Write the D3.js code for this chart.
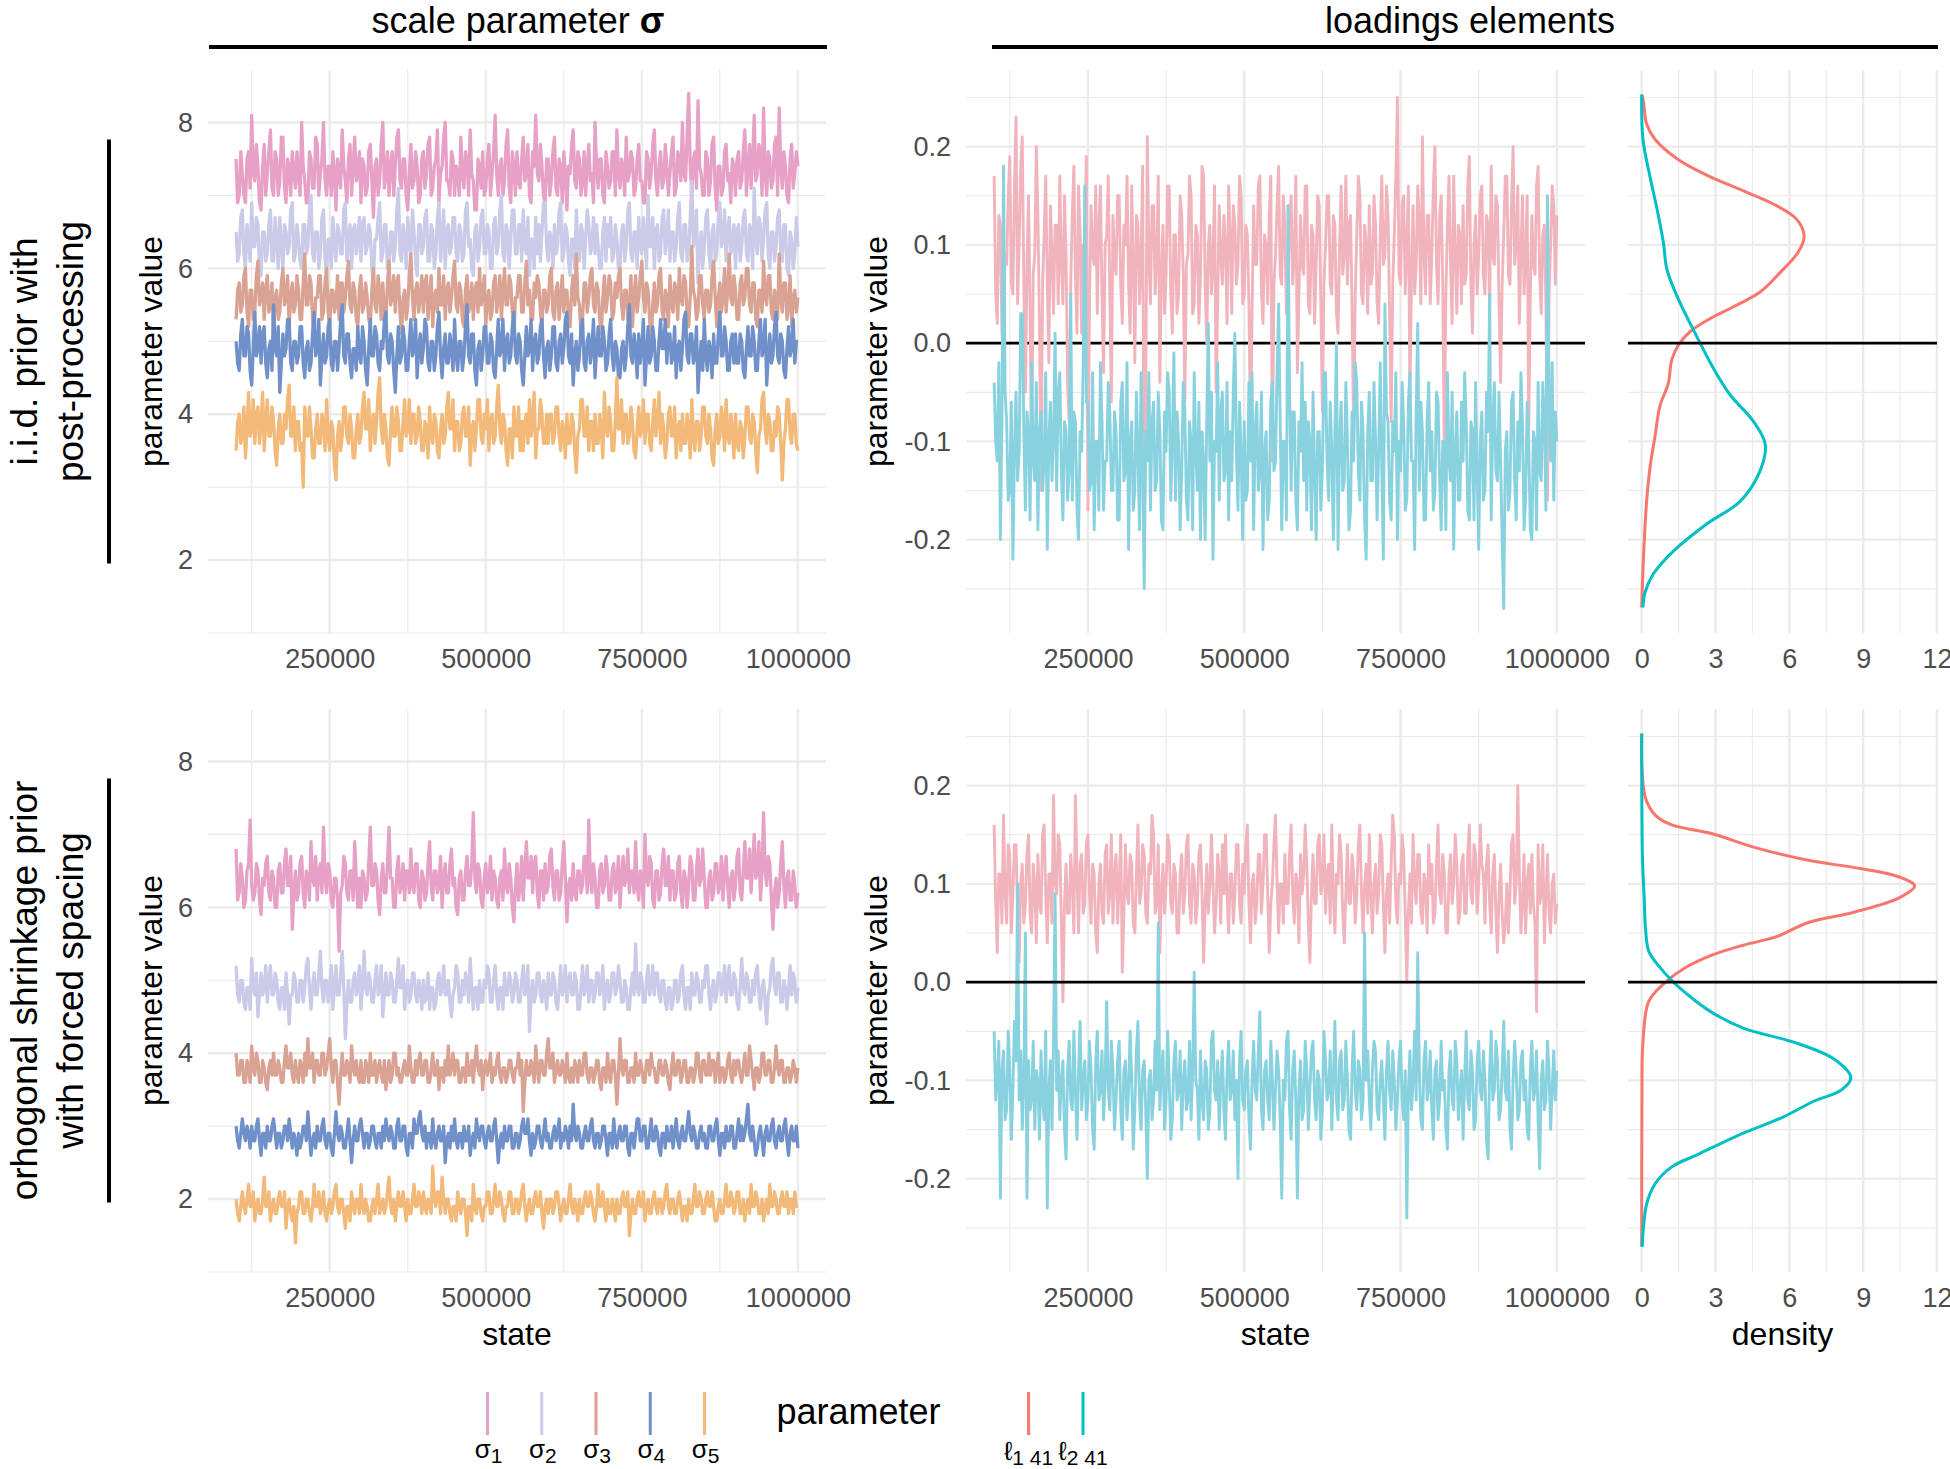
<!DOCTYPE html>
<html><head><meta charset="utf-8">
<script src="https://cdn.jsdelivr.net/npm/d3@7"></script>
<style>
body{margin:0;background:#fff;}
</style></head><body>
<script>
// ---------------- DATA ----------------
const states = d3.range(100000, 1000001, 2500);   // thinned MCMC states (361)
const sigmaNames = ["σ1","σ2","σ3","σ4","σ5"];
const sigmaColors = ["#E7A1C6","#C9CBE8","#D9A293","#7090CA","#F3B979"];
const loadNames = ["ℓ1 41","ℓ2 41"];
const loadTraceColors = ["#F2B4BC","#88D2E0"];
const loadColors = ["#F8766D","#00BFC4"];

const sigmaTicks = [2,4,6,8], sigmaMinor = [1,3,5,7];
const stateTicks = [250000,500000,750000,1000000], stateMinor = [125000,375000,625000,875000];
const loadTicks = [-0.2,-0.1,0,0.1,0.2], loadMinor = [-0.25,-0.15,-0.05,0.05,0.15,0.25];
const loadTickLabels = ["-0.2","-0.1","0.0","0.1","0.2"];
const densTicks = [0,3,6,9,12], densMinor = [1.5,4.5,7.5,10.5];

// i.i.d. prior with post-processing : sigma traces
const iidS1 = [
7.5,6.9,7.0,7.6,7.3,7.0,6.9,7.5,7.6,7.1,8.1,7.3,7.2,7.7,7.4,6.9,6.8,7.4,7.7,7.0,
7.3,7.6,7.9,7.1,7.0,7.6,7.5,7.0,7.2,7.8,7.8,7.1,6.9,7.5,7.4,7.0,7.6,7.3,7.1,7.6,
7.3,7.0,8.0,7.4,7.2,6.9,6.9,7.6,7.5,7.1,7.1,7.8,7.7,7.0,7.3,7.5,8.0,7.2,7.0,7.4,
7.4,7.0,7.6,7.3,6.8,7.5,7.3,7.1,7.9,7.4,7.2,6.9,7.5,7.7,7.0,7.4,7.8,7.2,7.3,7.6,
6.9,7.5,7.4,7.0,7.1,7.6,7.7,7.2,6.7,7.4,7.5,7.0,7.2,7.7,8.0,7.1,7.3,7.6,7.0,7.4,
7.6,7.0,7.4,7.8,7.9,7.2,7.1,7.5,7.5,7.0,6.8,7.3,7.7,7.1,7.2,7.6,7.4,6.9,7.0,7.5,
7.6,7.1,7.3,7.7,7.8,7.0,7.1,7.4,7.5,7.9,6.9,7.3,7.4,7.8,8.0,7.2,7.2,7.0,7.6,7.5,
7.0,7.4,7.3,7.0,7.8,7.3,7.1,7.6,7.5,7.0,7.9,7.3,7.2,6.8,6.8,7.5,7.4,7.1,7.6,7.0,
7.1,7.5,7.7,7.0,7.3,7.6,8.1,7.3,7.0,7.4,7.5,7.0,7.2,7.7,7.9,7.1,6.9,7.6,7.4,7.0,
7.6,7.2,7.1,7.5,7.8,7.2,7.3,7.7,7.0,6.9,7.6,7.4,8.1,7.3,7.2,7.7,7.4,7.0,6.9,7.5,
7.5,7.0,7.2,7.6,7.8,7.1,7.0,7.5,7.4,6.9,7.6,7.3,6.8,7.4,7.3,7.7,7.9,7.2,7.1,7.6,
7.5,7.0,7.2,7.6,7.0,7.4,7.7,7.2,7.3,6.9,8.0,7.4,7.1,7.5,7.5,7.0,6.9,7.6,7.4,7.1,
7.2,7.6,7.6,7.0,7.9,7.3,7.1,7.5,7.4,7.0,7.8,7.2,7.3,7.6,7.5,7.0,7.1,7.5,7.7,7.2,
7.2,6.9,6.9,7.6,7.5,7.1,7.3,7.7,7.9,7.2,7.0,7.4,7.6,7.1,7.2,7.7,7.4,7.0,7.3,7.6,
7.8,7.0,7.1,7.6,7.5,7.2,8.0,7.3,7.2,7.8,8.4,7.4,7.0,7.5,7.6,7.1,8.3,7.4,7.3,7.0,
7.0,7.6,7.5,7.0,7.2,7.7,7.8,7.1,6.8,7.4,7.4,7.0,7.1,7.6,7.7,7.2,7.3,6.9,7.5,7.4,
7.0,7.5,7.6,7.1,7.2,7.6,7.9,7.0,7.4,7.7,7.1,7.5,8.1,7.2,7.3,7.7,7.6,7.0,8.2,7.3,
7.0,7.6,7.5,7.1,7.2,7.7,7.8,7.0,8.2,7.4,7.1,7.6,7.4,7.0,6.9,7.5,7.7,7.1,7.3,7.6,
7.4];
const iidS2 = [
6.5,6.1,6.2,6.7,6.8,6.2,6.0,6.6,6.4,6.1,6.9,6.3,6.3,6.7,6.6,6.0,5.9,6.5,6.5,6.1,
6.2,6.6,6.8,6.1,6.1,6.7,6.4,6.0,6.7,6.3,6.0,6.6,6.5,6.2,6.3,6.8,6.9,6.1,6.2,6.6,
6.4,6.1,6.0,6.6,6.6,6.2,6.3,6.8,7.0,6.2,6.1,6.5,6.5,6.0,6.2,6.7,6.8,6.1,5.9,6.4,
6.4,6.0,6.7,6.3,6.1,6.6,6.5,6.2,6.2,6.8,6.9,6.1,6.3,6.6,6.0,6.5,6.6,6.2,6.4,6.7,
6.1,6.6,6.7,6.2,6.3,6.6,6.5,6.0,5.8,6.4,6.4,6.7,6.9,6.1,6.2,6.6,6.6,6.0,6.0,6.5,
6.5,6.1,6.3,6.8,7.1,6.2,6.1,6.6,6.4,6.0,6.7,6.3,6.2,6.8,6.5,6.1,5.9,6.6,6.6,6.2,
6.3,6.7,6.8,6.1,6.1,6.6,6.5,6.0,6.2,6.7,6.9,6.1,6.4,6.8,6.0,6.5,6.6,6.2,6.3,6.7,
6.7,6.2,6.1,6.6,6.5,6.1,6.2,6.8,6.9,6.3,6.4,6.0,5.9,6.5,6.6,6.1,6.3,6.7,6.8,6.2,
6.2,6.6,6.5,6.0,6.0,6.6,6.7,6.2,6.3,6.8,7.0,6.2,6.1,6.6,6.5,6.0,6.4,6.8,6.8,6.2,
6.2,6.6,6.6,6.1,6.8,6.3,6.2,6.7,5.9,6.4,6.4,6.0,6.7,6.2,6.6,6.1,6.5,6.9,6.9,6.3,
6.1,6.5,6.4,6.0,6.6,6.2,6.3,6.8,6.9,6.1,6.2,6.6,6.5,6.1,5.9,6.4,6.4,6.0,6.8,6.3,
6.1,6.6,6.5,6.0,6.4,6.8,6.6,6.2,6.3,6.7,6.2,6.6,6.3,6.0,6.0,6.5,6.7,6.1,6.6,6.3,
6.7,6.1,6.2,6.6,6.4,6.0,6.0,6.5,6.6,6.1,6.3,6.8,6.9,6.2,6.1,6.5,6.5,6.0,6.7,6.3,
6.2,6.7,6.4,6.0,7.0,6.3,6.3,6.7,6.0,6.5,6.6,6.1,6.2,6.7,6.8,6.2,6.4,6.8,6.1,6.5,
6.5,6.1,6.3,6.7,6.9,6.2,6.1,6.6,6.6,6.1,6.2,6.7,7.2,6.3,6.4,6.8,5.8,6.3,6.5,6.0,
6.3,6.7,6.8,6.2,6.0,6.5,6.6,6.1,6.2,6.7,6.9,6.3,6.4,6.8,6.1,6.5,6.7,6.2,6.3,6.6,
6.0,6.5,6.6,6.1,6.3,6.7,6.8,6.2,6.1,6.6,6.5,6.0,7.1,6.4,6.2,6.7,6.6,6.1,6.4,6.8,
6.9,6.2,6.0,6.5,6.5,6.1,6.3,6.7,6.8,6.2,6.1,6.6,6.6,6.0,5.9,6.5,6.4,6.0,6.2,6.7,
6.3];
const iidS3 = [
5.3,5.7,5.8,5.4,5.5,5.9,6.0,5.4,5.2,5.7,5.7,5.3,5.4,5.9,6.1,5.5,5.6,5.8,5.3,5.7,
5.9,5.4,5.5,5.8,5.1,5.6,5.7,5.3,5.4,5.8,6.0,5.5,5.6,5.9,5.2,5.6,5.8,5.4,5.5,5.9,
5.7,5.3,5.3,5.8,6.2,5.5,5.5,5.9,5.8,5.3,5.1,5.6,5.6,5.9,5.9,5.3,5.4,5.8,6.0,5.4,
5.2,5.7,5.7,5.4,5.5,5.9,5.3,5.8,5.8,5.4,5.6,5.9,6.1,5.5,5.4,5.8,5.7,5.3,5.2,5.7,
5.9,5.4,5.5,5.8,5.6,5.3,5.2,5.7,6.0,5.5,5.4,5.9,5.7,5.3,5.8,5.4,5.3,5.8,6.1,5.5,
5.6,5.9,5.4,5.8,5.9,5.4,5.1,5.6,5.7,5.3,5.5,5.9,6.2,5.6,5.3,5.7,5.8,5.4,5.6,5.9,
5.4,5.8,5.9,5.3,5.6,5.9,5.2,5.6,5.7,5.4,6.0,5.5,5.5,5.9,5.3,5.7,5.8,5.4,5.6,5.9,
6.1,5.5,5.4,5.8,5.7,5.3,5.2,5.7,5.9,5.4,5.5,5.8,5.3,5.7,5.8,5.4,6.0,5.5,5.6,5.9,
5.2,5.6,5.7,5.3,5.4,5.8,5.9,5.4,5.6,5.9,5.3,5.7,6.0,5.5,5.5,5.9,5.8,5.4,5.1,5.6,
5.6,5.9,5.9,5.4,5.4,5.8,6.1,5.5,5.7,5.3,5.3,5.8,5.6,5.9,5.8,5.4,5.2,5.7,5.7,5.4,
5.5,5.9,6.0,5.4,5.3,5.7,5.8,5.3,5.6,5.9,5.4,5.7,5.7,5.3,5.2,5.7,5.9,5.5,6.2,5.6,
5.5,5.1,5.3,5.8,5.8,5.4,5.6,5.9,6.0,5.5,5.4,5.8,5.7,5.3,5.1,5.6,5.9,5.4,5.6,5.9,
5.8,5.3,5.4,5.8,5.6,5.9,6.0,5.5,5.3,5.7,5.7,5.3,5.5,5.9,5.2,5.6,5.9,5.4,5.6,5.9,
6.1,5.6,5.4,5.8,5.7,5.3,5.0,5.5,5.8,5.4,5.5,5.9,6.0,5.4,5.3,5.7,5.6,5.2,5.9,5.5,
5.4,5.8,5.7,5.3,6.0,5.6,5.5,5.9,5.8,5.4,5.2,5.6,6.3,5.7,5.6,5.3,5.4,5.9,5.9,5.5,
5.3,5.7,5.7,5.4,5.5,5.9,6.1,5.6,5.2,5.6,5.8,5.4,5.6,6.0,5.4,5.7,6.2,5.6,5.5,5.9,
5.7,5.3,5.3,5.8,5.9,5.5,5.6,6.0,6.0,5.5,5.4,5.8,5.8,5.3,5.2,5.7,5.7,5.4,6.1,5.6,
5.5,5.9,5.9,5.4,5.3,5.7,5.6,5.3,6.2,5.6,5.4,5.8,5.8,5.3,5.5,5.9,5.2,5.6,5.7,5.4,
5.6];
const iidS4 = [
5.0,4.7,4.6,5.1,5.3,4.8,4.8,5.2,5.1,4.6,4.4,4.9,5.4,4.8,4.9,5.2,4.7,5.1,5.2,4.7,
4.5,4.9,5.0,4.6,5.5,4.9,4.8,5.2,4.3,4.7,5.1,4.8,4.9,5.3,5.3,4.7,4.6,5.0,5.0,4.7,
4.8,5.2,5.2,4.7,4.5,4.9,5.0,4.6,4.7,5.1,5.4,4.8,4.9,5.3,4.4,4.8,5.1,4.7,4.8,5.2,
5.3,4.7,4.6,5.0,5.0,4.6,4.9,5.3,5.5,4.8,4.7,5.1,5.1,4.7,4.5,4.9,4.9,4.6,5.2,4.8,
4.7,5.2,5.0,4.6,4.4,4.9,5.3,4.8,4.8,5.2,5.1,4.7,4.6,5.0,4.9,5.3,5.4,4.8,4.7,5.1,
5.0,4.6,4.3,4.8,5.2,4.7,4.8,5.2,5.0,4.6,4.6,5.0,5.3,4.8,4.9,5.3,4.5,4.9,5.1,4.7,
4.9,5.3,5.2,4.7,4.6,5.0,5.0,4.6,4.8,5.2,5.4,4.8,4.5,4.9,5.1,4.7,4.7,5.1,4.9,4.6,
5.3,4.8,4.6,5.0,5.0,4.6,4.8,5.2,5.5,4.8,4.7,5.1,5.1,4.6,4.4,4.9,5.0,4.6,4.8,5.2,
5.2,4.7,4.7,5.1,5.0,4.6,4.5,4.9,5.3,4.8,4.9,5.3,4.6,5.0,5.1,4.7,4.8,5.2,5.4,4.8,
4.7,5.1,5.0,4.6,4.4,4.8,5.2,4.8,4.9,5.3,4.6,5.0,5.1,4.7,4.8,5.2,5.3,4.8,4.5,4.9,
5.0,4.6,4.8,5.2,5.2,4.7,4.6,5.0,5.1,4.7,4.9,5.3,5.4,4.8,4.7,5.1,4.4,4.8,5.0,4.6,
4.8,5.2,5.3,4.7,4.6,5.0,5.1,4.7,4.9,5.3,4.5,4.9,5.2,4.8,4.8,5.2,5.0,4.6,4.7,5.1,
5.3,4.8,4.6,5.0,4.9,4.5,4.5,4.9,5.0,4.6,4.8,5.2,5.5,4.8,4.7,5.1,4.9,4.5,5.1,4.7,
4.9,5.3,4.4,4.8,5.2,4.7,4.8,5.2,5.0,4.6,4.6,5.0,5.3,4.9,4.9,5.3,4.7,5.1,5.1,4.7,
4.8,5.2,4.5,4.9,5.0,4.6,4.9,5.3,5.4,4.8,4.7,5.1,5.1,4.7,4.8,5.2,4.3,4.7,5.0,4.6,
5.3,4.8,4.6,5.0,4.9,4.5,5.1,4.7,4.7,5.1,5.4,4.8,4.8,5.2,5.0,4.6,4.6,5.0,5.1,4.7,
5.1,4.7,4.7,5.1,5.0,4.6,4.5,4.9,5.2,4.8,4.8,5.2,5.0,4.6,4.6,5.0,5.3,4.8,4.9,5.3,
4.4,4.8,5.1,4.7,4.8,5.2,5.4,4.8,4.7,5.1,5.0,4.6,4.5,4.9,5.2,4.8,4.9,5.3,4.7,5.0,
5.0];
const iidS5 = [
3.5,3.9,4.0,3.6,3.7,4.1,3.4,3.8,4.3,3.7,3.8,4.2,3.6,4.0,4.1,3.6,3.9,4.3,3.5,3.9,
4.2,3.7,3.7,4.1,3.9,3.5,3.3,3.8,4.0,3.6,3.6,4.0,3.8,4.2,4.4,3.7,3.7,4.1,3.5,3.9,
3.9,3.5,3.6,3.0,4.1,3.7,3.7,4.1,3.8,3.4,3.4,3.8,4.0,3.6,3.6,4.0,3.9,3.5,4.2,3.7,
3.5,3.9,3.8,3.3,3.1,3.7,3.9,3.5,3.7,4.1,4.1,3.7,3.6,4.0,3.8,3.4,3.4,3.8,4.0,3.6,
3.7,4.1,4.3,3.8,3.8,4.2,3.5,3.9,4.0,3.6,3.9,4.3,4.5,3.8,3.6,4.0,3.8,3.4,3.3,3.8,
4.1,3.7,3.7,4.1,3.9,3.5,3.5,3.9,4.2,3.7,3.8,4.2,3.6,4.0,4.0,3.6,3.7,4.1,3.9,3.5,
3.5,3.9,3.8,3.4,4.1,3.7,3.6,4.0,3.9,3.5,3.4,3.8,4.0,3.6,3.7,4.1,4.3,3.8,3.8,4.2,
3.5,3.9,3.9,3.5,3.6,4.0,4.1,3.7,3.7,4.1,3.3,3.8,3.9,3.5,3.8,4.2,4.2,3.7,3.6,4.0,
3.8,4.2,3.5,3.9,4.0,3.6,3.7,4.1,4.4,3.8,3.6,4.0,3.9,3.5,3.3,3.8,3.8,3.4,4.1,3.7,
3.7,4.1,3.5,3.9,3.5,3.9,4.0,3.6,4.2,3.7,3.9,4.3,3.4,3.8,3.8,4.2,4.0,3.6,3.6,4.0,
3.6,4.0,4.0,3.6,3.7,4.1,4.1,3.7,3.5,3.9,3.8,3.4,4.0,3.6,3.6,4.0,3.9,3.5,3.2,3.7,
3.8,4.2,4.2,3.7,3.7,4.1,3.5,3.9,3.9,3.5,4.0,3.6,3.6,4.0,3.8,3.4,4.3,3.8,3.7,4.1,
3.9,3.5,3.5,3.9,4.5,3.8,3.8,4.2,3.6,4.0,4.0,3.6,3.7,4.1,3.9,3.5,3.4,3.8,4.1,3.7,
3.8,4.2,3.6,4.0,4.0,3.6,3.5,3.9,4.2,3.7,3.9,4.3,3.6,4.0,3.8,3.4,3.6,4.0,4.1,3.7,
3.7,4.1,3.4,3.8,3.9,3.5,4.0,3.6,3.6,4.0,3.8,3.4,4.2,3.7,3.5,3.9,3.9,3.5,3.7,4.1,
4.1,3.7,3.6,4.0,3.8,3.4,3.3,3.8,4.0,3.6,3.7,4.1,3.9,3.5,4.2,3.7,3.6,4.0,3.8,3.4,
4.0,3.6,3.5,3.9,3.8,3.4,3.7,4.1,4.1,3.7,3.6,4.0,3.9,3.5,3.2,3.7,3.8,4.2,4.3,3.8,
3.6,4.0,3.9,3.5,3.5,3.9,3.7,4.1,4.0,3.6,3.1,3.6,3.8,4.2,4.2,3.7,3.6,4.0,4.0,3.6,
3.5];

// orthogonal shrinkage prior with forced spacing : sigma traces
const osS1 = [
6.8,6.1,6.2,6.6,6.4,6.0,6.1,6.5,6.6,7.2,6.3,6.1,6.2,6.6,6.5,6.1,5.9,6.4,6.3,6.6,
6.7,6.2,6.1,6.5,6.4,6.0,6.0,6.5,6.6,6.2,6.2,6.6,6.8,6.3,6.3,6.7,5.7,6.2,6.5,6.1,
6.2,6.6,6.7,6.2,6.0,6.5,6.4,6.1,6.9,6.4,6.3,6.7,6.1,6.5,6.6,6.2,7.1,6.4,6.2,6.6,
6.5,6.1,6.0,6.4,6.4,6.1,5.4,6.2,6.3,6.7,6.6,6.2,6.1,6.5,6.5,6.1,6.9,6.4,6.0,6.4,
6.0,6.5,6.4,6.1,6.2,6.6,7.1,6.3,6.3,6.6,6.5,6.1,5.9,6.4,6.6,6.2,6.2,6.6,7.1,6.4,
6.4,6.0,6.0,6.5,6.7,6.2,6.3,6.6,6.1,6.5,6.5,6.2,6.8,6.3,6.2,6.6,6.6,6.1,6.0,6.5,
6.4,6.1,6.2,6.6,6.9,6.3,6.1,6.5,6.5,6.2,6.3,6.7,6.0,6.4,6.6,6.2,6.2,6.6,6.8,6.3,
6.4,6.0,5.9,6.4,6.5,6.1,6.1,6.5,6.7,6.3,6.3,6.6,7.3,6.4,6.2,6.6,6.5,6.1,6.0,6.4,
6.6,6.2,6.3,6.7,6.1,6.5,6.4,6.1,6.0,6.4,6.5,6.1,6.8,6.3,6.2,6.6,6.4,6.0,5.8,6.3,
6.6,6.1,6.3,6.7,6.1,6.5,6.9,6.4,6.4,6.7,6.2,6.6,6.7,6.2,6.0,6.5,6.5,6.1,6.6,6.2,
6.3,6.7,6.8,6.3,6.1,6.5,6.5,6.1,6.2,6.6,6.9,6.4,5.8,6.3,6.4,6.1,6.6,6.2,6.1,6.5,
6.5,6.2,6.3,6.7,6.7,6.2,7.2,6.4,6.2,6.6,6.4,6.0,6.0,6.5,6.6,6.2,6.3,6.7,6.5,6.1,
6.1,6.5,6.6,6.2,6.3,6.7,6.0,6.4,6.7,6.3,6.4,6.8,6.2,6.5,6.5,6.2,6.9,6.3,6.1,6.5,
6.4,6.0,7.0,6.4,6.3,6.7,6.6,6.1,6.0,6.5,6.5,6.1,6.2,6.6,6.8,6.3,6.3,6.7,6.1,6.5,
6.5,6.1,6.2,6.6,6.7,6.2,6.0,6.5,6.4,6.0,6.3,6.7,6.6,6.1,6.1,6.5,6.8,6.3,6.4,6.8,
6.4,6.0,6.0,6.4,6.5,6.1,6.2,6.6,6.6,6.2,6.3,6.7,6.1,6.5,6.7,6.3,6.0,6.4,6.5,6.1,
6.3,6.7,6.8,6.2,6.1,6.5,6.9,6.4,6.4,6.8,6.2,6.6,7.0,6.4,6.5,6.9,6.1,6.5,7.3,6.5,
6.3,6.7,6.6,6.1,5.7,6.2,6.4,6.0,6.2,6.6,6.9,6.3,6.0,6.4,6.5,6.1,6.1,6.5,6.3,6.0,
6.2];
const osS2 = [
5.2,4.8,4.7,5.0,5.0,4.7,4.6,4.9,4.9,4.6,5.3,4.9,4.8,5.1,4.5,4.8,5.1,4.8,4.9,5.2,
4.7,5.0,5.2,4.8,4.8,5.1,5.0,4.7,4.6,4.9,4.9,4.6,5.1,4.8,4.4,4.8,4.8,5.1,5.0,4.7,
4.7,5.0,5.0,4.7,4.9,5.2,5.3,4.9,4.6,4.9,5.1,4.8,4.8,5.1,5.4,4.9,4.7,5.0,5.0,4.7,
4.9,5.2,4.6,4.9,5.2,4.8,4.8,5.1,5.4,4.9,4.2,4.7,5.0,4.7,4.7,5.0,5.1,4.8,4.9,5.2,
4.6,4.9,5.4,4.9,4.8,5.1,5.0,4.7,4.7,5.0,5.2,4.8,4.9,5.2,4.5,4.8,5.1,4.8,4.8,5.1,
5.0,4.7,4.7,5.0,5.3,4.9,4.9,5.2,4.6,4.9,5.0,4.7,4.8,5.1,5.1,4.8,4.7,5.0,4.9,4.6,
5.0,4.7,4.8,5.1,4.6,4.9,4.9,4.6,4.7,5.0,5.1,4.8,4.9,5.2,4.8,4.8,5.0,4.7,4.5,4.8,
4.9,5.2,5.1,4.7,4.7,5.0,4.8,5.1,5.0,4.7,5.3,4.9,4.6,4.9,4.9,4.6,5.0,4.7,4.7,5.0,
4.9,5.2,5.1,4.7,4.7,5.0,5.2,4.8,4.6,4.9,4.9,4.6,5.1,4.8,4.8,5.1,5.0,4.7,4.8,5.1,
5.0,4.7,4.7,5.0,5.2,4.8,4.9,5.2,4.3,4.8,5.0,4.7,4.8,5.1,5.1,4.8,4.7,5.0,4.9,4.6,
5.1,4.8,4.8,5.1,5.0,4.7,4.6,4.9,5.2,4.8,4.9,5.2,4.7,5.0,5.1,4.8,4.8,5.1,5.0,4.6,
4.6,4.9,5.2,4.8,4.9,5.2,4.7,5.0,5.0,4.7,4.8,5.1,5.1,4.8,4.9,5.2,4.6,4.9,5.0,4.7,
4.8,5.1,5.1,4.8,4.9,5.2,5.0,4.7,4.7,5.0,4.9,4.6,4.6,4.9,5.1,4.8,5.5,4.9,4.8,5.1,
5.0,4.7,4.7,5.0,5.2,4.8,4.9,5.2,4.8,5.1,5.1,4.8,4.7,5.0,5.0,4.7,4.6,4.9,4.9,4.6,
4.7,5.0,5.0,4.7,4.8,5.1,5.2,4.8,4.6,4.9,4.9,4.6,5.1,4.8,4.8,5.1,5.0,4.7,4.7,5.0,
4.9,5.2,5.2,4.8,4.6,4.9,5.0,4.7,4.8,5.1,5.1,4.8,4.9,5.2,4.7,5.0,5.2,4.8,4.8,5.1,
5.0,4.7,4.6,4.9,5.3,4.9,4.8,5.1,5.0,4.7,4.7,5.0,4.8,5.1,5.2,4.8,4.6,4.9,5.0,4.7,
4.4,4.8,4.9,5.2,5.3,4.9,4.8,5.1,5.1,4.7,4.7,5.0,4.9,4.6,4.9,5.2,4.8,5.1,5.0,4.7,
4.9];
const osS3 = [
4.0,3.7,3.7,3.9,3.9,3.6,3.6,3.9,3.8,3.6,4.1,3.8,3.7,4.0,3.9,3.6,3.6,3.9,3.8,3.6,
3.5,3.8,3.9,3.7,4.0,3.7,3.7,3.9,3.8,3.6,3.6,3.9,4.1,3.8,3.8,4.0,3.7,3.6,3.9,3.7,
3.6,3.9,3.8,3.6,4.0,3.7,4.2,3.8,3.8,4.0,3.6,3.9,3.9,3.7,3.7,4.0,4.0,3.7,3.8,4.0,
4.2,3.8,3.6,3.9,3.9,3.6,3.3,3.7,4.0,3.7,3.7,3.9,3.8,3.6,4.1,3.8,3.7,3.9,3.7,3.6,
3.9,3.6,3.6,3.9,3.8,3.6,4.0,3.7,3.7,3.9,3.6,3.8,3.9,3.7,3.6,3.9,3.5,3.7,3.9,3.6,
3.7,4.0,4.0,3.7,3.8,3.6,3.6,3.8,3.9,3.7,3.7,4.1,3.8,3.6,3.6,3.9,3.7,3.9,4.0,3.7,
3.7,3.9,3.9,3.6,3.6,3.8,4.0,3.7,3.7,3.9,3.5,3.8,3.8,3.6,3.9,3.7,4.1,3.7,3.8,4.0,
3.7,3.9,3.9,3.6,3.6,3.8,3.8,3.6,4.0,3.7,3.7,3.9,3.6,3.9,4.1,3.8,3.7,3.9,3.5,3.8,
3.9,3.7,3.8,4.0,3.6,3.8,3.7,3.9,4.0,3.7,3.6,3.8,3.8,3.6,3.7,3.9,3.9,3.7,3.6,3.8,
3.8,4.0,3.7,3.9,3.2,3.6,3.9,3.7,3.7,3.9,3.8,3.6,4.1,3.8,3.6,3.9,3.9,3.7,3.7,4.0,
4.2,3.8,3.8,4.0,3.6,3.8,3.9,3.7,3.7,3.9,3.8,3.6,4.0,3.7,3.6,3.8,3.6,3.9,3.8,3.6,
3.9,3.7,3.7,4.0,4.0,3.7,3.6,3.8,3.8,3.6,3.7,3.9,3.9,3.6,3.5,3.8,3.8,3.6,4.0,3.7,
3.6,3.9,3.9,3.7,3.3,3.7,4.2,3.8,3.7,3.9,3.9,3.6,3.6,3.8,3.8,3.6,4.0,3.7,3.7,3.9,
3.8,3.6,3.6,3.9,3.9,3.7,4.0,3.8,3.8,3.6,3.6,3.9,3.9,3.7,3.7,3.9,3.8,3.6,3.5,3.8,
4.0,3.7,3.7,3.9,3.9,3.6,3.7,3.9,3.9,3.6,3.6,3.8,3.8,3.6,3.7,4.0,4.0,3.7,3.6,3.9,
3.9,3.7,3.7,4.0,3.7,3.9,3.9,3.6,3.8,4.0,3.6,3.8,3.8,3.6,3.7,3.9,4.0,3.7,3.6,3.9,
3.7,3.9,3.9,3.7,3.6,3.8,4.0,3.7,3.7,4.1,3.9,3.7,3.5,3.8,3.8,3.6,3.7,4.0,4.0,3.7,
3.7,3.9,3.9,3.6,3.6,3.8,4.1,3.8,3.7,3.9,3.9,3.6,3.6,3.8,3.8,3.6,3.7,3.9,3.8,3.6,
3.8];
const osS4 = [
3.0,2.8,2.7,2.9,3.1,2.9,2.8,3.0,2.9,2.7,3.0,2.8,2.8,3.0,3.1,2.8,2.6,2.9,2.9,2.7,
3.0,2.8,2.8,3.0,3.1,2.9,2.7,2.9,2.9,2.7,2.8,3.0,3.0,2.8,3.1,2.9,2.7,2.9,2.8,2.6,
2.9,2.7,2.8,3.0,3.0,2.8,3.2,2.9,2.6,2.8,2.9,2.7,3.0,2.8,2.8,3.0,3.1,2.8,2.7,2.9,
2.9,2.7,2.6,2.9,3.2,2.9,2.8,3.0,2.9,2.7,2.7,2.9,3.1,2.8,2.5,2.8,3.0,2.8,2.8,3.0,
3.1,2.9,2.7,2.9,2.9,2.7,2.8,3.0,3.0,2.8,2.7,2.9,2.9,2.7,3.0,2.8,3.1,2.9,2.8,3.0,
2.9,2.7,2.7,3.0,3.1,2.8,2.8,3.0,3.0,2.7,2.6,2.9,2.9,2.7,3.1,2.9,2.9,3.1,3.2,2.9,
2.8,3.0,2.7,2.9,2.9,2.7,3.1,2.8,2.7,2.9,3.0,2.8,2.8,3.0,2.5,2.8,2.9,2.7,3.0,2.8,
3.1,2.8,2.7,2.9,2.9,2.7,3.0,2.8,2.8,3.0,2.6,2.8,2.9,2.7,3.1,2.9,2.8,3.0,3.0,2.8,
2.7,2.9,3.0,2.8,2.8,3.0,3.1,2.8,2.5,2.8,2.9,2.7,3.0,2.8,2.8,3.0,3.0,2.7,2.7,2.9,
2.9,2.7,2.8,3.0,3.1,2.9,2.9,3.1,2.8,2.6,2.9,2.7,2.8,3.0,3.0,2.8,2.7,2.9,3.1,2.8,
2.9,2.7,2.7,2.9,3.0,2.8,2.9,3.1,2.7,2.9,2.8,3.0,2.9,2.7,3.0,2.8,3.3,2.9,2.8,3.0,
2.9,2.7,2.7,2.9,3.0,2.8,2.8,3.0,3.1,2.8,2.7,2.9,2.9,2.7,2.8,3.0,3.0,2.8,2.6,2.9,
2.9,2.7,3.1,2.8,2.7,2.9,3.0,2.8,2.8,3.0,3.0,2.7,2.6,2.9,2.9,2.7,2.9,3.1,3.1,2.8,
2.8,3.0,3.0,2.7,2.7,2.9,3.1,2.8,2.8,3.0,2.9,2.7,2.6,2.9,2.9,2.7,3.0,2.8,2.8,3.0,
2.7,2.9,3.1,2.8,2.7,2.9,3.0,2.8,2.8,3.0,3.2,2.9,2.8,3.0,2.9,2.7,2.7,2.9,3.0,2.8,
2.9,2.7,2.7,3.0,3.0,2.8,2.8,3.0,3.1,2.8,2.6,2.9,2.9,2.7,3.0,2.8,2.8,3.0,3.0,2.7,
2.7,2.9,3.1,2.8,3.0,2.8,2.9,3.1,3.3,2.9,2.8,3.0,2.8,2.6,2.7,2.9,3.0,2.8,2.6,2.9,
3.0,2.8,2.8,3.0,3.1,2.8,2.7,2.9,3.0,2.8,2.8,3.0,3.1,2.8,2.6,2.9,3.0,2.8,2.8,3.0,
2.7];
const osS5 = [
2.0,1.8,1.7,1.9,2.1,1.9,1.8,2.0,2.2,1.9,1.9,2.1,1.7,1.9,2.0,1.8,1.8,2.0,2.3,1.9,
1.9,2.1,1.7,1.9,2.0,1.8,1.8,2.0,2.1,1.9,1.9,2.1,1.6,1.9,2.0,1.8,1.7,1.9,1.4,1.8,
1.9,2.1,2.1,1.8,1.8,2.0,2.0,1.8,1.7,1.9,2.2,1.9,1.9,2.1,1.8,1.9,2.1,1.8,1.7,1.9,
2.0,1.8,1.9,2.1,2.2,1.9,1.8,2.0,2.0,1.8,1.6,1.9,1.9,1.7,2.1,1.9,1.8,2.0,2.0,1.8,
2.2,1.9,1.8,2.0,1.9,1.7,1.7,1.9,2.0,1.8,2.0,2.2,1.8,1.9,2.0,1.8,1.9,2.1,2.3,1.9,
1.8,2.0,1.7,1.9,2.1,1.9,1.9,2.1,1.9,1.7,2.0,1.8,1.8,2.0,2.2,1.9,1.9,2.1,2.0,1.8,
2.1,1.9,1.8,2.0,2.0,1.8,2.45,2.0,1.9,2.1,2.1,1.8,2.3,2.0,1.8,2.0,2.0,1.8,1.7,1.9,
1.9,1.7,2.1,1.9,1.8,2.0,2.0,1.8,1.5,1.9,1.9,1.7,2.2,1.9,1.8,2.0,2.0,1.8,1.7,1.9,
1.9,2.1,2.1,1.8,1.8,2.0,2.2,1.9,1.9,2.1,2.0,1.8,1.7,1.9,1.9,2.1,2.1,1.8,1.8,2.0,
2.0,1.8,1.9,2.1,2.2,1.9,1.7,1.9,2.0,1.8,1.8,2.0,2.1,1.9,1.9,2.1,1.8,1.6,1.9,2.0,
1.8,2.0,2.0,1.8,1.9,2.1,2.1,1.9,1.7,1.9,2.0,1.8,1.8,2.0,2.2,1.9,1.8,2.0,1.9,1.7,
2.0,1.8,1.8,2.0,2.1,1.9,1.9,2.1,2.0,1.8,1.7,1.9,2.2,1.9,1.9,2.1,1.9,1.7,2.0,1.8,
1.8,2.0,1.9,1.7,2.0,1.8,1.8,2.0,2.1,1.9,1.9,2.1,1.5,1.8,2.0,1.8,1.8,2.0,2.1,1.9,
1.9,2.1,1.7,1.9,2.0,1.8,1.8,2.0,2.1,1.9,1.8,2.0,2.0,1.8,1.9,2.1,2.2,1.9,1.8,2.0,
2.0,1.8,1.8,2.0,2.1,1.9,1.7,1.9,1.9,1.7,2.0,1.8,1.8,2.0,2.2,1.9,1.9,2.1,2.0,1.8,
1.8,2.0,2.1,1.9,1.9,2.1,1.9,1.7,1.7,1.9,2.0,1.8,1.8,2.0,2.2,1.9,1.9,2.1,2.0,1.8,
1.9,2.1,2.1,1.8,1.8,2.0,1.7,1.9,2.0,1.8,2.2,1.9,1.9,2.1,2.0,1.8,1.8,2.0,1.7,1.9,
2.0,1.8,2.2,1.9,1.9,2.1,2.0,1.8,1.8,2.0,2.1,1.9,1.9,2.1,1.8,2.0,2.0,1.8,2.1,1.9,
1.9];

// loadings traces
const iidL1 = [
.17,.05,.02,.13,.12,.01,-.01,.09,.08,.15,.19,.06,.05,.16,.23,.04,.10,.18,.21,.06,
-.05,.08,.15,.03,-.12,.07,.09,.20,.13,.02,-.15,.06,.11,.17,.06,-.02,.14,.09,.03,.12,
.12,.04,.17,.08,.04,.15,.09,-.04,-.08,.06,.13,.18,.07,.01,.16,.11,.01,.10,.10,.19,
-.17,.04,.14,.09,.08,.16,.03,.12,.16,.05,-.03,.10,.11,.17,.05,-.06,.13,.08,.07,.15,
.15,.06,.02,.12,.10,.17,.06,.01,.16,.08,-.02,.13,.12,.04,.08,.18,-.20,-.05,.21,.09,
.04,.14,.14,.05,.09,.17,-.04,.07,.12,.03,.07,.16,.16,.05,.01,.11,.11,.03,.05,.15,
.13,.07,-.06,.08,.09,.17,.15,.03,.04,.12,.11,.02,.07,.18,.17,.06,.00,.10,.12,.05,
.08,.16,-.05,.04,.14,.09,.06,.13,.10,.02,.16,.11,.03,.14,.12,.06,.08,.17,.15,.04,
.05,.12,.11,.04,-.10,.03,.14,.08,.08,.16,.17,.05,.02,.11,.10,.04,.13,.17,-.12,.06,
.09,.14,.18,.07,.06,.15,.12,.03,.04,.13,.15,.06,.09,.17,-.03,.05,.13,.08,.07,.16,
.16,.04,.03,.12,.11,.02,.08,.15,.14,.04,-.07,.06,.10,.15,.15,.06,.05,.13,.12,.03,
.01,.10,.16,.07,.09,.17,.06,.12,.13,.03,-.09,.05,.11,.17,.15,.05,.04,.12,.10,.03,
.14,.06,.07,.15,.12,.04,.02,.11,.17,.08,.09,.16,.13,.03,-.08,.06,.11,.17,.25,.07,
.06,.14,.15,.05,.10,.16,-.06,.07,.14,.05,.08,.16,.12,.04,.21,.09,.05,.13,.13,.04,
.09,.16,.20,.08,.04,.13,.15,.06,-.11,.05,.12,.17,.08,.02,.17,.09,.03,.12,.11,.04,
.14,.06,.07,.16,.19,.06,.01,.10,.13,.05,.09,.15,.16,.07,.05,.13,.12,.03,.18,.09,
.08,.15,.14,.04,-.04,.06,.11,.17,.17,.07,.06,.14,.20,.08,.10,.16,.02,.09,.15,.05,
.09,.15,-.09,.05,.13,.08,.07,.16,.18,.07,.03,.11,.12,.04,-.16,.05,.10,.16,.14,.06,
.13];
const iidL2 = [
-.04,-.10,-.12,-.02,-.20,-.08,.18,-.05,-.08,-.16,-.15,-.06,-.22,-.11,-.05,-.14,-.11,.03,.03,-.09,
-.17,-.07,-.09,-.18,-.02,-.12,-.14,-.04,-.19,-.09,-.07,-.15,-.12,-.03,-.21,-.10,-.06,-.14,-.10,.01,
-.15,-.05,-.03,-.13,-.18,-.08,-.09,-.16,-.13,.05,-.16,-.07,-.08,-.17,-.20,-.09,-.11,-.02,.16,-.06,
-.06,-.15,-.14,-.03,-.19,-.10,-.10,-.17,-.02,-.08,-.17,-.12,-.12,-.04,-.07,-.15,-.15,-.07,-.09,-.18,
-.18,-.06,-.04,-.14,-.13,-.02,-.21,-.10,-.08,-.17,-.15,-.05,-.11,-.19,-.03,-.12,-.25,-.09,-.12,-.03,
-.17,-.08,-.06,-.15,-.14,-.05,-.09,-.18,-.19,-.07,-.11,-.03,-.05,-.16,-.10,-.01,-.16,-.07,-.10,-.19,
-.13,-.04,-.07,-.16,-.18,-.08,-.10,-.19,-.03,-.11,-.15,-.06,-.20,-.09,-.12,-.20,-.08,.02,-.12,-.05,
-.22,-.10,-.11,-.02,-.16,-.07,-.05,-.14,-.13,-.04,-.18,-.09,-.14,-.05,.01,-.11,-.17,-.06,-.11,-.20,
-.08,-.16,-.15,-.04,-.12,-.03,-.19,-.09,-.06,-.15,-.13,-.05,-.21,-.11,-.09,-.18,-.16,-.06,-.04,-.13,
-.12,-.03,.04,-.08,-.19,-.10,-.10,-.18,.14,-.05,-.15,-.07,-.07,-.16,-.19,-.08,-.11,-.02,-.14,-.06,
-.17,-.08,-.10,-.19,-.05,-.13,-.20,-.09,-.09,-.17,-.13,-.03,-.03,-.12,-.16,-.06,-.11,-.20,-.09,.00,
-.21,-.10,-.06,-.15,-.14,-.04,-.10,-.19,-.17,-.07,-.12,-.02,-.04,-.13,-.16,-.06,-.09,-.18,-.22,-.09,
-.05,-.14,-.14,-.04,-.10,-.18,-.11,-.02,-.13,-.22,.04,-.07,-.08,-.16,-.18,-.08,-.11,-.03,-.20,-.10,
-.13,-.04,-.08,-.17,-.16,-.06,-.03,-.12,-.12,-.21,-.07,.02,-.15,-.06,-.09,-.18,-.18,-.08,-.04,-.13,
-.09,-.17,-.15,-.05,-.06,-.14,-.19,-.10,-.10,-.19,-.03,-.12,-.14,-.05,-.21,-.11,-.07,-.16,-.16,-.06,
-.12,-.03,-.08,-.17,-.18,-.08,-.09,-.18,-.04,-.13,-.21,-.10,-.07,-.16,-.15,-.05,-.09,.05,-.18,-.08,
-.04,-.13,-.14,-.05,-.12,-.20,-.27,-.11,-.09,-.17,-.15,-.06,-.05,-.14,-.18,-.08,-.13,-.03,-.08,-.19,
-.16,-.06,-.10,-.19,-.20,-.09,-.10,-.19,-.04,-.13,-.14,-.04,-.08,-.17,.15,-.06,-.12,-.02,-.16,-.07,
-.10];
const osL1 = [
.16,.08,.03,.11,.11,.06,.17,.09,.06,.14,.13,.05,.09,.14,.14,.07,.02,.10,.12,.06,
.08,.13,.15,.07,.05,.12,.10,.04,.13,.08,.07,.15,.16,.09,.04,.11,.11,.06,.19,.10,
.09,.15,.14,.06,-.02,.08,.12,.07,.07,.13,.10,.05,.19,.11,.05,.12,.13,.07,.08,.14,
.15,.09,.06,.12,.11,.05,.03,.10,.12,.07,.06,.13,.14,.07,.09,.15,.06,.11,.13,.06,
.10,.15,.01,.07,.14,.09,.08,.13,.12,.06,.05,.11,.16,.08,.09,.14,.13,.07,.06,.12,
.11,.17,.15,.07,.08,.14,.03,.09,.12,.07,.10,.15,.14,.08,.07,.12,.11,.05,.05,.11,
.13,.07,.09,.14,.15,.08,.06,.12,.11,.06,.08,.13,.14,.09,.02,.08,.12,.07,.10,.15,
.10,.05,.08,.13,.11,.06,.14,.09,.15,.09,.05,.11,.11,.06,.09,.14,.14,.08,.06,.12,
.09,.14,.16,.08,.04,.10,.11,.06,.08,.13,.13,.07,.10,.15,.15,.09,.03,.08,.10,.14,
.17,.10,.05,.10,.10,.06,.13,.08,.08,.13,.16,.09,.06,.11,.10,.04,.13,.09,.11,.16,
.12,.06,.02,.09,.13,.08,.08,.14,.15,.09,.10,.15,.07,.11,.12,.06,.16,.09,.05,.11,
.10,.15,.13,.07,.04,.09,.14,.08,.08,.13,.11,.06,.09,.14,.16,.09,.05,.10,.12,.07,
.15,.09,.05,.10,.12,.07,.09,.15,.14,.08,.03,.09,.11,.06,.12,.17,.15,.08,.06,.11,
.10,.15,.13,.07,.00,.07,.11,.06,.15,.10,.08,.13,.13,.07,.06,.11,.10,.05,.14,.09,
.12,.06,.07,.12,.16,.09,.08,.13,.11,.05,.05,.11,.13,.08,.10,.15,.12,.06,.07,.12,
.13,.07,.07,.13,.16,.09,.08,.14,.13,.07,.10,.16,.12,.11,.06,.12,.14,.08,.05,.11,
.13,.07,.03,.09,.12,.07,.04,.06,.10,.05,.09,.14,.15,.08,.10,.20,.11,.05,.08,.13,
.05,.10,.12,.07,.13,.08,.06,-.03,.14,.08,.09,.14,.04,.09,.13,.07,.05,.10,.11,.06,
.08];
const osL2 = [
-.05,-.12,-.10,-.06,-.22,-.09,-.07,-.14,-.13,-.05,-.09,-.16,-.11,-.04,-.08,.10,-.12,-.07,-.15,-.10,
.05,-.22,-.08,-.13,-.12,-.06,-.15,-.09,-.10,-.16,-.07,-.12,-.14,-.05,-.23,-.11,-.08,-.15,-.06,.09,
-.11,-.07,-.14,-.10,-.08,-.15,-.18,-.09,-.06,-.12,-.13,-.05,-.11,-.16,-.09,-.04,-.13,-.10,-.08,-.14,
-.12,-.06,-.09,-.15,-.17,-.08,-.05,-.12,-.11,-.07,-.14,-.10,-.02,-.11,-.13,-.06,-.09,-.15,-.12,-.08,
-.06,-.13,-.16,-.09,-.08,-.14,-.11,-.05,-.10,-.17,-.13,-.07,-.04,-.12,-.15,-.09,-.08,-.13,-.20,-.10,
-.09,-.14,-.12,-.06,-.11,.06,-.13,-.09,-.07,-.15,-.12,-.05,-.10,-.16,-.14,-.08,-.06,-.12,-.11,-.07,
-.15,-.10,-.08,-.13,-.12,-.06,-.14,-.09,.01,-.10,-.11,-.16,-.07,-.12,-.14,-.08,-.09,-.15,-.13,-.06,
-.05,-.11,-.12,-.08,-.15,-.10,-.07,-.13,-.16,-.09,-.06,-.12,-.11,-.07,-.14,-.10,-.20,-.08,-.05,-.12,
-.13,-.09,-.08,-.14,-.17,-.10,-.06,-.11,-.12,-.07,-.03,-.13,-.15,-.09,-.08,-.12,-.14,-.06,-.10,-.15,
-.11,-.07,-.09,-.14,-.22,-.10,-.12,-.06,-.05,-.13,-.16,-.09,-.07,-.12,-.22,-.11,-.08,-.14,-.13,-.06,
-.09,-.15,-.11,-.07,-.06,-.12,-.14,-.09,-.10,-.16,-.13,-.05,-.08,-.12,-.11,-.07,-.15,-.10,-.04,-.12,
-.14,-.08,-.07,-.13,-.12,-.06,-.10,-.15,-.16,-.09,-.05,-.11,-.13,-.08,-.09,-.14,-.12,.05,-.10,-.07,
-.12,-.15,-.09,-.06,-.07,-.13,-.14,-.10,-.08,-.12,-.16,-.09,-.06,-.11,-.13,-.07,-.10,-.15,-.12,-.08,
-.06,-.12,-.14,-.09,-.24,-.11,-.07,-.13,-.10,-.05,-.12,.03,-.09,-.14,-.15,-.08,-.06,-.12,-.11,-.07,
-.13,-.16,-.09,-.08,-.14,-.12,-.06,-.11,-.10,-.15,-.17,-.09,-.07,-.12,-.13,-.06,-.08,-.14,-.11,-.09,
-.16,-.10,-.05,-.12,-.13,-.07,-.09,-.15,-.14,-.08,-.06,-.11,-.12,-.07,-.10,-.16,-.18,-.09,-.05,-.12,
-.11,-.06,-.08,-.14,-.13,-.09,-.04,-.11,-.12,-.07,-.15,-.17,-.10,-.06,-.09,-.14,-.13,-.08,-.07,-.12,
-.10,-.15,-.16,-.09,-.06,-.12,-.11,-.07,-.14,-.19,-.10,-.08,-.13,-.12,-.06,-.09,-.15,-.11,-.07,-.12,
-.09];

// density curves: [parameter value, density]
const iidDens1 = [[0.253,0],[0.246,0.07],[0.223,0.2],[0.2075,0.54],[0.188,1.42],[0.171,2.64],[0.155,4.13],[0.1416,5.35],[0.126,6.3],[0.109,6.6],[0.093,6.37],[0.072,5.63],[0.052,4.81],[0.037,3.73],[0.025,2.78],[0.0116,1.96],[-0.002,1.49],[-0.017,1.22],[-0.041,1.08],[-0.064,0.74],[-0.095,0.54],[-0.126,0.34],[-0.161,0.2],[-0.219,0.07],[-0.269,0]];
const iidDens2 = [[0.253,0],[0.2075,0.05],[0.169,0.34],[0.138,0.61],[0.1027,0.88],[0.0756,1.02],[0.0486,1.42],[0.0135,2.1],[-0.0254,2.91],[-0.0525,3.59],[-0.0796,4.54],[-0.103,5.02],[-0.130,4.81],[-0.161,4.0],[-0.184,2.64],[-0.2116,1.29],[-0.235,0.47],[-0.254,0.13],[-0.269,0.05]];
const osDens1 = [[0.253,0],[0.2126,0.02],[0.187,0.16],[0.170,0.55],[0.160,1.22],[0.1515,2.8],[0.1367,4.65],[0.124,6.77],[0.1156,8.88],[0.107,10.47],[0.098,11.09],[0.086,10.48],[0.0712,8.63],[0.0607,6.77],[0.046,5.45],[0.0376,4.13],[0.027,2.8],[0.0144,1.75],[-0.0004,0.95],[-0.0194,0.29],[-0.0616,0.05],[-0.125,0.01],[-0.269,0]];
const osDens2 = [[0.2527,0],[0.128,0.03],[0.086,0.1],[0.0523,0.16],[0.0313,0.29],[0.0165,0.69],[0.0017,1.22],[-0.013,1.88],[-0.030,2.8],[-0.0468,4.13],[-0.0616,6.24],[-0.0785,7.83],[-0.0975,8.5],[-0.110,8.1],[-0.1207,7.04],[-0.1376,5.72],[-0.1566,3.86],[-0.1755,2.27],[-0.188,1.22],[-0.205,0.55],[-0.226,0.2],[-0.2696,0.02]];

// ---------------- DRAWING ----------------
const W = 1950, H = 1469;
const FONT = '"Liberation Sans", Arial, Helvetica, sans-serif';
const TICKCOL = "#4D4D4D", GRID = "#EBEBEB";
const svg = d3.select("body").append("svg").attr("width", W).attr("height", H)
  .style("display","block").attr("font-family", FONT);
svg.append("rect").attr("width", W).attr("height", H).attr("fill", "#fff");

const cols = { left: [208, 826], mid: [966, 1585], dens: [1628, 1937] };
const rows = [[70, 633], [709, 1272]];

function grid(g, x, y, xMaj, xMin, yMaj, yMin) {
  const [x0, x1] = x.range(), [y1, y0] = y.range();
  const gg = g.append("g");
  gg.selectAll(null).data(yMin).join("line").attr("x1", x0).attr("x2", x1)
    .attr("y1", d => y(d)).attr("y2", d => y(d)).attr("stroke", GRID).attr("stroke-width", 1.2);
  gg.selectAll(null).data(xMin).join("line").attr("y1", y0).attr("y2", y1)
    .attr("x1", d => x(d)).attr("x2", d => x(d)).attr("stroke", GRID).attr("stroke-width", 1.2);
  gg.selectAll(null).data(yMaj).join("line").attr("x1", x0).attr("x2", x1)
    .attr("y1", d => y(d)).attr("y2", d => y(d)).attr("stroke", GRID).attr("stroke-width", 2.4);
  gg.selectAll(null).data(xMaj).join("line").attr("y1", y0).attr("y2", y1)
    .attr("x1", d => x(d)).attr("x2", d => x(d)).attr("stroke", GRID).attr("stroke-width", 2.4);
}
function styleAxis(a) {
  a.select(".domain").remove();
  a.attr("font-size", 27).attr("font-family", FONT).style("color", TICKCOL);
}
function xAxis(g, x, y, ticks, fmt) {
  g.append("g").attr("transform", `translate(0,${y.range()[0]})`)
    .call(d3.axisBottom(x).tickValues(ticks).tickSize(0).tickPadding(16).tickFormat(fmt)).call(styleAxis);
}
function yAxis(g, x, y, ticks, fmt) {
  g.append("g").attr("transform", `translate(${x.range()[0]},0)`)
    .call(d3.axisLeft(y).tickValues(ticks).tickSize(0).tickPadding(15).tickFormat(fmt)).call(styleAxis);
}
function trace(g, x, y, vals, color, w) {
  const line = d3.line().x((d, i) => x(states[i])).y(d => y(d));
  g.append("path").datum(vals.slice(0, states.length)).attr("d", line).attr("fill", "none")
    .attr("stroke", color).attr("stroke-width", w).attr("stroke-linejoin", "round");
}
function hzero(g, x, y) {
  g.append("line").attr("x1", x.range()[0]).attr("x2", x.range()[1])
    .attr("y1", y(0)).attr("y2", y(0)).attr("stroke", "#000").attr("stroke-width", 2.8);
}
function dens(g, x, y, pts, color) {
  const line = d3.line().x(d => x(d[1])).y(d => y(d[0])).curve(d3.curveCatmullRom.alpha(0.5));
  g.append("path").datum(pts).attr("d", line).attr("fill", "none")
    .attr("stroke", color).attr("stroke-width", 3).attr("stroke-linejoin", "round");
}

const sigmaSets = [[iidS1, iidS2, iidS3, iidS4, iidS5], [osS1, osS2, osS3, osS4, osS5]];
const loadSets = [[iidL1, iidL2], [osL1, osL2]];
const densSets = [[iidDens1, iidDens2], [osDens1, osDens2]];
const fmtState = d3.format("d");

rows.forEach((r, ri) => {
  // sigma panel
  const xs = d3.scaleLinear().domain([55000, 1045000]).range(cols.left);
  const ys = d3.scaleLinear().domain([1.0, 8.72]).range([r[1], r[0]]);
  const g1 = svg.append("g");
  grid(g1, xs, ys, stateTicks, stateMinor, sigmaTicks, sigmaMinor);
  sigmaSets[ri].forEach((s, k) => trace(g1, xs, ys, s, sigmaColors[k], 3.3));
  xAxis(g1, xs, ys, stateTicks, fmtState);
  yAxis(g1, xs, ys, sigmaTicks, d3.format("d"));

  // loadings trace panel
  const xm = d3.scaleLinear().domain([55000, 1045000]).range(cols.mid);
  const yl = d3.scaleLinear().domain([-0.295, 0.278]).range([r[1], r[0]]);
  const g2 = svg.append("g");
  grid(g2, xm, yl, stateTicks, stateMinor, loadTicks, loadMinor);
  if (ri === 0) hzero(g2, xm, yl);
  loadSets[ri].forEach((s, k) => trace(g2, xm, yl, s, loadTraceColors[k], 2.9));
  if (ri === 1) hzero(g2, xm, yl);
  xAxis(g2, xm, yl, stateTicks, fmtState);
  yAxis(g2, xm, yl, loadTicks, (d, i) => loadTickLabels[i]);

  // density panel
  const xd = d3.scaleLinear().domain([-0.557, 12]).range(cols.dens);
  const g3 = svg.append("g");
  grid(g3, xd, yl, densTicks, densMinor, loadTicks, loadMinor);
  densSets[ri].forEach((s, k) => dens(g3, xd, yl, s, loadColors[k]));
  hzero(g3, xd, yl);
  xAxis(g3, xd, yl, densTicks, d3.format("d"));

  // y axis titles
  [[152, r], [877, r]].forEach(([cx, rr]) => {
    svg.append("text").attr("transform", `translate(${cx + 10},${(rr[0] + rr[1]) / 2}) rotate(-90)`)
      .attr("text-anchor", "middle").attr("font-size", 32).attr("fill", "#000").text("parameter value");
  });
});

// x axis titles (bottom row)
[["state", (cols.left[0] + cols.left[1]) / 2], ["state", (cols.mid[0] + cols.mid[1]) / 2],
 ["density", (cols.dens[0] + cols.dens[1]) / 2]].forEach(([t, cx]) => {
  svg.append("text").attr("x", cx).attr("y", 1345).attr("text-anchor", "middle")
    .attr("font-size", 32).attr("fill", "#000").text(t);
});

// column titles and bars
const ct1 = svg.append("text").attr("x", 518).attr("y", 33).attr("text-anchor", "middle")
  .attr("font-size", 36).attr("fill", "#000");
ct1.append("tspan").text("scale parameter ");
ct1.append("tspan").attr("font-weight", "bold").text("σ");
svg.append("text").attr("x", 1470).attr("y", 33).attr("text-anchor", "middle")
  .attr("font-size", 36).attr("fill", "#000").text("loadings elements");
svg.append("rect").attr("x", 209).attr("y", 45).attr("width", 618).attr("height", 4).attr("fill", "#000");
svg.append("rect").attr("x", 992).attr("y", 45).attr("width", 946).attr("height", 4).attr("fill", "#000");

// row titles and bars
const rowTitles = [["i.i.d. prior with", "post-processing"], ["orhogonal shrinkage prior", "with forced spacing"]];
rows.forEach((r, ri) => {
  const cy = (r[0] + r[1]) / 2;
  rowTitles[ri].forEach((t, li) => {
    svg.append("text").attr("transform", `translate(${li === 0 ? 37 : 83},${cy}) rotate(-90)`)
      .attr("text-anchor", "middle").attr("font-size", 37).attr("fill", "#000").text(t);
  });
  svg.append("rect").attr("x", 107).attr("y", cy - 212).attr("width", 4).attr("height", 424).attr("fill", "#000");
});

// legend
const legS = d3.scalePoint().domain(sigmaNames).range([487.5, 704.5]);
const legL = d3.scalePoint().domain(loadNames).range([1028.6, 1083]);
const lg = svg.append("g");
sigmaNames.forEach((n, k) => {
  lg.append("line").attr("x1", legS(n)).attr("x2", legS(n)).attr("y1", 1392).attr("y2", 1435)
    .attr("stroke", sigmaColors[k]).attr("stroke-width", 3);
  const t = lg.append("text").attr("x", legS(n) + 1).attr("y", 1458).attr("text-anchor", "middle")
    .attr("font-size", 26).attr("fill", "#000");
  t.append("tspan").text("σ");
  t.append("tspan").attr("font-size", 21).attr("dy", 5).text(n.slice(1));
});
lg.append("text").attr("x", 776.5).attr("y", 1424).attr("font-size", 36).attr("fill", "#000").text("parameter");
loadNames.forEach((n, k) => {
  lg.append("line").attr("x1", legL(n)).attr("x2", legL(n)).attr("y1", 1392).attr("y2", 1435)
    .attr("stroke", loadColors[k]).attr("stroke-width", 3);
  const t = lg.append("text").attr("x", legL(n)).attr("y", 1460).attr("text-anchor", "middle")
    .attr("font-size", 26).attr("fill", "#000");
  t.append("tspan").text("ℓ");
  t.append("tspan").attr("font-size", 21).attr("dy", 5).text(n.slice(1));
});
</script></body></html>
